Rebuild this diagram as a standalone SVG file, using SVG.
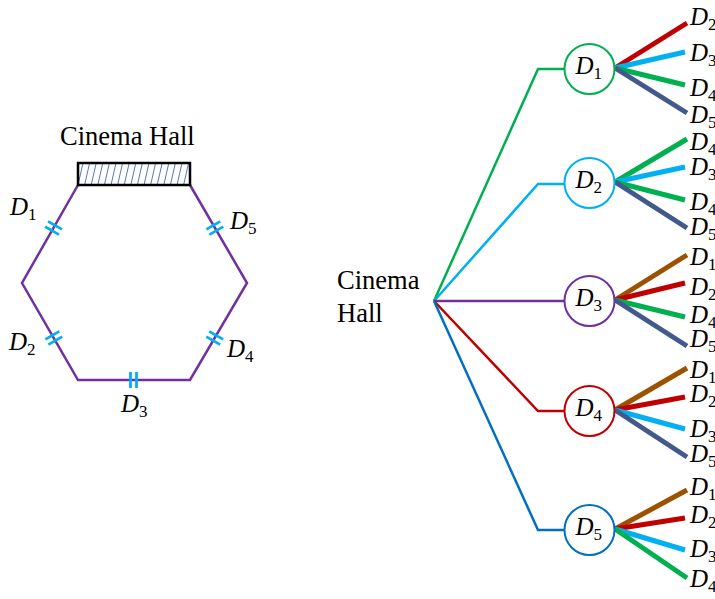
<svg xmlns="http://www.w3.org/2000/svg" width="715" height="599" viewBox="0 0 715 599">
<style>
.t{font-family:"Liberation Serif","DejaVu Serif",serif;fill:#000}
.d{font-family:"Liberation Serif","DejaVu Serif",serif;font-style:italic;font-size:25px;fill:#000}
.s{font-style:normal;font-size:17px}
.tick{stroke:#00B0F0;stroke-width:2.8;fill:none}
.hatch{stroke:#2E5597;stroke-width:0.8}
.conn{fill:none;stroke-width:2.5}
.node{fill:#fff;stroke-width:2}
.sub{stroke-width:5;stroke-linecap:butt}
.green{stroke:#00B050}.cyan{stroke:#00B0F0}.purple{stroke:#7030A0}.red{stroke:#C00000}.blue{stroke:#0070C0}.brown{stroke:#9C5200}.navy{stroke:#41598B}
</style>
<defs>
<g id="ticks"><line x1="-3" y1="-8" x2="-3" y2="8"/><line x1="3" y1="-8" x2="3" y2="8"/></g>
</defs>
<g id="hall-plan">
<text class="t" x="60" y="145" font-size="26.5">Cinema Hall</text>
<polyline points="78,185 22,283 78,380 190,380 247,283 190,185" fill="none" stroke="#7030A0" stroke-width="2.5"/>
<g class="hatch">
<line x1="78" y1="185" x2="83" y2="163"/><line x1="84.6" y1="185" x2="89.6" y2="163"/><line x1="91.2" y1="185" x2="96.2" y2="163"/><line x1="97.8" y1="185" x2="102.8" y2="163"/><line x1="104.4" y1="185" x2="109.4" y2="163"/><line x1="111" y1="185" x2="116" y2="163"/><line x1="117.6" y1="185" x2="122.6" y2="163"/><line x1="124.2" y1="185" x2="129.2" y2="163"/><line x1="130.8" y1="185" x2="135.8" y2="163"/><line x1="137.4" y1="185" x2="142.4" y2="163"/><line x1="144" y1="185" x2="149" y2="163"/><line x1="150.6" y1="185" x2="155.6" y2="163"/><line x1="157.2" y1="185" x2="162.2" y2="163"/><line x1="163.8" y1="185" x2="168.8" y2="163"/><line x1="170.4" y1="185" x2="175.4" y2="163"/><line x1="177" y1="185" x2="182" y2="163"/><line x1="183.6" y1="185" x2="188.6" y2="163"/>
</g>
<rect x="78" y="163" width="112" height="22" fill="none" stroke="#000" stroke-width="2.5"/>
<g class="tick">
<use href="#ticks" transform="translate(53.5,228) rotate(-60)"/>
<use href="#ticks" transform="translate(214.8,228) rotate(60)"/>
<use href="#ticks" transform="translate(53.8,338) rotate(60)"/>
<use href="#ticks" transform="translate(214.7,338) rotate(-60)"/>
<use href="#ticks" transform="translate(133.5,380)"/>
</g>
<text class="d" x="10" y="215">D<tspan class="s" dy="5">1</tspan></text>
<text class="d" x="230" y="229">D<tspan class="s" dy="5">5</tspan></text>
<text class="d" x="9" y="350">D<tspan class="s" dy="5">2</tspan></text>
<text class="d" x="227" y="357">D<tspan class="s" dy="5">4</tspan></text>
<text class="d" x="121" y="412">D<tspan class="s" dy="5">3</tspan></text>
</g>
<g id="root">
<text class="t" x="337" y="289" font-size="26.5">Cinema</text>
<text class="t" x="337" y="322" font-size="26.5">Hall</text>
</g>
<g id="connectors">
<path class="conn green" d="M434,301 L538,69 L564,69"/>
<path class="conn cyan" d="M434,301 L538,184 L564,184"/>
<path class="conn purple" d="M434,301 L564,301"/>
<path class="conn red" d="M434,301 L538,411 L564,411"/>
<path class="conn blue" d="M434,301 L538,530 L564,530"/>
<g class="sub">
<line class="red" x1="615" y1="68" x2="687" y2="23"/><line class="cyan" x1="615" y1="68" x2="685" y2="52"/><line class="green" x1="615" y1="68" x2="685" y2="85"/><line class="navy" x1="615" y1="68" x2="687" y2="113"/>
<line class="green" x1="615" y1="182" x2="687" y2="139"/><line class="cyan" x1="615" y1="182" x2="685" y2="167"/><line class="green" x1="615" y1="182" x2="685" y2="200"/><line class="navy" x1="615" y1="182" x2="687" y2="228"/>
<line class="brown" x1="615" y1="300" x2="687" y2="255"/><line class="red" x1="615" y1="300" x2="685" y2="283"/><line class="green" x1="615" y1="300" x2="685" y2="317"/><line class="navy" x1="615" y1="300" x2="687" y2="346"/>
<line class="brown" x1="615" y1="410" x2="687" y2="368"/><line class="red" x1="615" y1="410" x2="685" y2="397"/><line class="cyan" x1="615" y1="410" x2="685" y2="429"/><line class="navy" x1="615" y1="410" x2="687" y2="457"/>
<line class="brown" x1="615" y1="529" x2="687" y2="490"/><line class="red" x1="615" y1="529" x2="685" y2="518"/><line class="cyan" x1="615" y1="529" x2="685" y2="550"/><line class="green" x1="615" y1="529" x2="687" y2="578"/>
</g>
</g>
<g id="node-d1"><circle class="node green" cx="589.5" cy="69" r="25"/><text class="d" x="575.5" y="74">D<tspan class="s" dy="5">1</tspan></text></g>
<g id="node-d2"><circle class="node cyan" cx="589.5" cy="183" r="25"/><text class="d" x="575.5" y="188">D<tspan class="s" dy="5">2</tspan></text></g>
<g id="node-d3"><circle class="node purple" cx="589.5" cy="301" r="25"/><text class="d" x="575.5" y="306">D<tspan class="s" dy="5">3</tspan></text></g>
<g id="node-d4"><circle class="node red" cx="589.5" cy="411" r="25"/><text class="d" x="575.5" y="416">D<tspan class="s" dy="5">4</tspan></text></g>
<g id="node-d5"><circle class="node blue" cx="589.5" cy="530" r="25"/><text class="d" x="575.5" y="535">D<tspan class="s" dy="5">5</tspan></text></g>
<g id="leaf-labels">
<text class="d" x="690" y="25">D<tspan class="s" dy="5">2</tspan></text>
<text class="d" x="690" y="61">D<tspan class="s" dy="5">3</tspan></text>
<text class="d" x="690" y="96">D<tspan class="s" dy="5">4</tspan></text>
<text class="d" x="690" y="123">D<tspan class="s" dy="5">5</tspan></text>
<text class="d" x="690" y="150">D<tspan class="s" dy="5">4</tspan></text>
<text class="d" x="690" y="175">D<tspan class="s" dy="5">3</tspan></text>
<text class="d" x="690" y="210">D<tspan class="s" dy="5">4</tspan></text>
<text class="d" x="690" y="235">D<tspan class="s" dy="5">5</tspan></text>
<text class="d" x="690" y="265">D<tspan class="s" dy="5">1</tspan></text>
<text class="d" x="690" y="295">D<tspan class="s" dy="5">2</tspan></text>
<text class="d" x="690" y="323">D<tspan class="s" dy="5">4</tspan></text>
<text class="d" x="690" y="347">D<tspan class="s" dy="5">5</tspan></text>
<text class="d" x="690" y="378">D<tspan class="s" dy="5">1</tspan></text>
<text class="d" x="690" y="402">D<tspan class="s" dy="5">2</tspan></text>
<text class="d" x="690" y="437">D<tspan class="s" dy="5">3</tspan></text>
<text class="d" x="690" y="462">D<tspan class="s" dy="5">5</tspan></text>
<text class="d" x="690" y="495">D<tspan class="s" dy="5">1</tspan></text>
<text class="d" x="690" y="523">D<tspan class="s" dy="5">2</tspan></text>
<text class="d" x="690" y="557">D<tspan class="s" dy="5">3</tspan></text>
<text class="d" x="690" y="587">D<tspan class="s" dy="5">4</tspan></text>
</g>
</svg>
